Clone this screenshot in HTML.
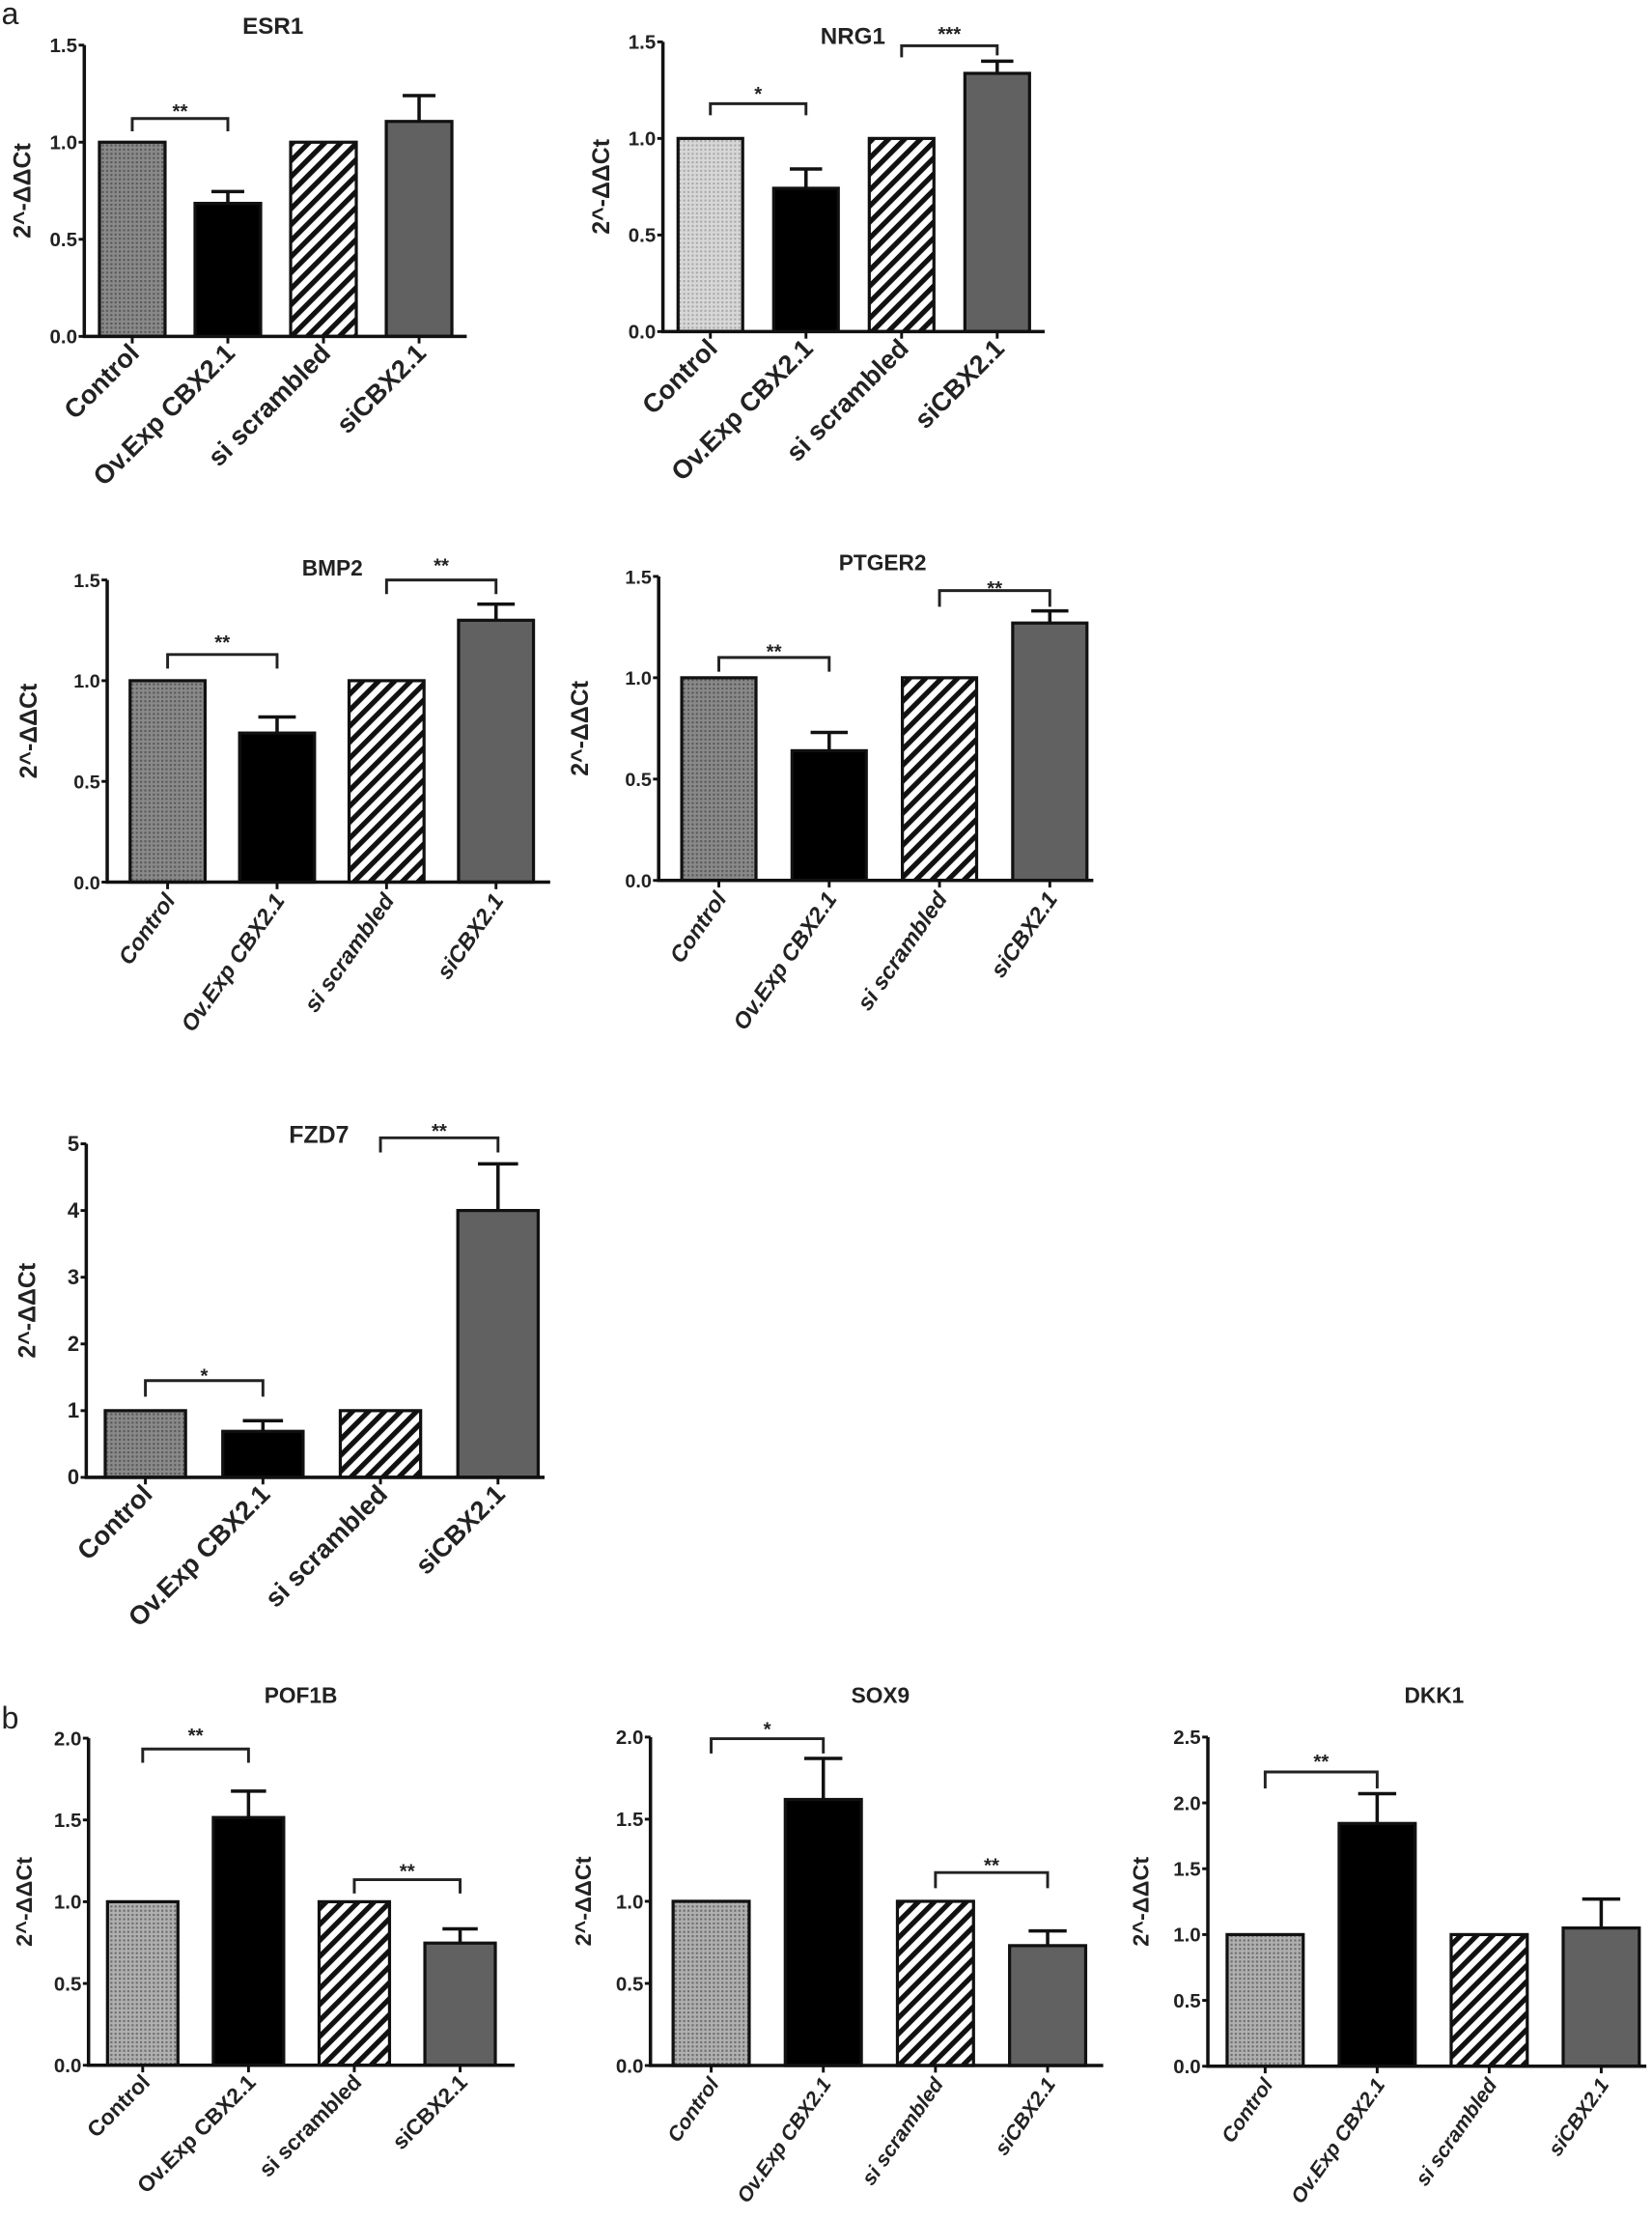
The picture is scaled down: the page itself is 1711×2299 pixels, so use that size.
<!DOCTYPE html>
<html><head><meta charset="utf-8"><style>
html,body{margin:0;padding:0;background:#fff}
svg{display:block}
text{font-family:"Liberation Sans",sans-serif;fill:#222}
</style></head><body>
<svg id="fig" xmlns="http://www.w3.org/2000/svg" width="1711" height="2299" viewBox="0 0 1168 1569.4" preserveAspectRatio="none">
<defs>
<pattern id="hatch" patternUnits="userSpaceOnUse" width="8" height="8" patternTransform="rotate(45)"><rect width="8" height="8" fill="#fff"/><rect width="3.6" height="8" fill="#111"/></pattern>
<pattern id="dotsDark" patternUnits="userSpaceOnUse" width="3" height="3"><rect width="3" height="3" fill="#8a8a8a"/><rect width="1.5" height="1.5" fill="#5a5a5a"/></pattern>
<pattern id="dotsLight" patternUnits="userSpaceOnUse" width="3" height="3"><rect width="3" height="3" fill="#d8d8d8"/><rect width="1.5" height="1.5" fill="#aaa"/></pattern>
<pattern id="dotsMid" patternUnits="userSpaceOnUse" width="3" height="3"><rect width="3" height="3" fill="#b0b0b0"/><rect width="1.5" height="1.5" fill="#6e6e6e"/></pattern>
</defs>
<text x="1" y="17" font-size="22">a</text>
<text x="1" y="1222" font-size="22">b</text>
</svg>
<script>
const categories = ["Control", "Ov.Exp CBX2.1", "si scrambled", "siCBX2.1"];
const esr1Values = [1.0, 0.685, 1.0, 1.107];
const esr1Errors = [0, 0.061, 0, 0.133];
const nrg1Values = [1.0, 0.742, 1.0, 1.337];
const nrg1Errors = [0, 0.10, 0, 0.063];
const bmp2Values = [1.0, 0.74, 1.0, 1.30];
const bmp2Errors = [0, 0.08, 0, 0.08];
const ptger2Values = [1.0, 0.64, 1.0, 1.27];
const ptger2Errors = [0, 0.09, 0, 0.06];
const fzd7Values = [1.0, 0.69, 1.0, 4.0];
const fzd7Errors = [0, 0.16, 0, 0.70];
const pof1bValues = [1.0, 1.515, 1.0, 0.747];
const pof1bErrors = [0, 0.161, 0, 0.087];
const sox9Values = [1.0, 1.62, 1.0, 0.73];
const sox9Errors = [0, 0.25, 0, 0.09];
const dkk1Values = [1.0, 1.844, 1.0, 1.05];
const dkk1Errors = [0, 0.226, 0, 0.22];
const ticks15 = ["0.0", "0.5", "1.0", "1.5"];
const ticks20 = ["0.0", "0.5", "1.0", "1.5", "2.0"];
const ticks25 = ["0.0", "0.5", "1.0", "1.5", "2.0", "2.5"];
const ticks5 = ["0", "1", "2", "3", "4", "5"];
// brackets: [fromBar, toBar, level, legLevelLeft, legLevelRight, stars, starLevel]
const esr1Sig = [[0, 1, 1.122, 1.056, 1.056, "**", 1.17]];
const nrg1Sig = [[0, 1, 1.18, 1.12, 1.12, "*", 1.24], [2, 3, 1.48, 1.42, 1.43, "***", 1.55]];
const bmp2Sig = [[0, 1, 1.13, 1.06, 1.06, "**", 1.2], [2, 3, 1.50, 1.43, 1.43, "**", 1.58]];
const ptger2Sig = [[0, 1, 1.10, 1.03, 1.03, "**", 1.14], [2, 3, 1.43, 1.35, 1.35, "**", 1.45]];
const fzd7Sig = [[0, 1, 1.45, 1.21, 1.21, "*", 1.55], [2, 3, 5.09, 4.87, 4.87, "**", 5.22]];
const pof1bSig = [[0, 1, 1.934, 1.85, 1.85, "**", 2.03], [2, 3, 1.135, 1.05, 1.05, "**", 1.2]];
const sox9Sig = [[0, 1, 1.99, 1.90, 1.90, "*", 2.06], [2, 3, 1.175, 1.08, 1.08, "**", 1.23]];
const dkk1Sig = [[0, 1, 2.235, 2.11, 2.11, "**", 2.33]];

const NS = "http://www.w3.org/2000/svg";
const svg = document.getElementById("fig");
function mk(tag, attrs, parent) {
  const e = document.createElementNS(NS, tag);
  for (const k in attrs) e.setAttribute(k, attrs[k]);
  (parent || svg).appendChild(e);
  return e;
}
const fills = ["", "#000", "url(#hatch)", "#616161"];

function panel(p) {
  const g = mk("g", {});
  
  
  const yScale = v => p.y0 - (v / p.ymax) * (p.y0 - p.yTop);
  const xCenter = i => p.bx + p.step * i + p.bw / 2;
  const t = mk("text", {x: p.titleX, y: p.titleY, "font-size": p.titleFs, "font-weight": "bold", "text-anchor": "middle", fill: "#333"}, g);
  t.textContent = p.title;
  
  
  const yt = mk("text", {x: 0, y: 0, "font-size": p.ytFs, "font-weight": "bold", "text-anchor": "middle",
    transform: `translate(${p.ax - p.ytOff},${(p.y0 + p.yTop) / 2}) rotate(-90)`}, g);
  yt.textContent = "2^-ΔΔCt";
  
  
  p.values.forEach((v, i) => {
    const x = p.bx + p.step * i;
    const r = mk("rect", {x: x, y: yScale(v), width: p.bw, height: p.y0 - yScale(v),
      fill: i === 0 ? p.ctrlFill : fills[i], stroke: "#111", "stroke-width": 2.2}, g);
    
    
    const e = p.errors[i];
    if (e > 0) {
      const cx = xCenter(i);
      const eb = mk("path", {d: `M${cx},${yScale(v)}V${yScale(v + e)}M${cx - p.bw / 4},${yScale(v + e)}H${cx + p.bw / 4}`,
        stroke: "#111", "stroke-width": 2.4, fill: "none"}, g);
      
      
    }
  });
  const ax = mk("path", {d: `M${p.ax},${p.yTop}V${p.y0}H${p.xEnd}`, stroke: "#111", "stroke-width": 2.4, fill: "none"}, g);
  
  
  p.ticks.forEach((lab, k) => {
    const v = p.ymax * k / (p.ticks.length - 1);
    const y = yScale(v);
    mk("path", {d: `M${p.ax - 4},${y}H${p.ax}`, stroke: "#111", "stroke-width": 2}, g);
    const tl = mk("text", {x: p.ax - 5, y: y + 5, "font-size": p.tickFs, "font-weight": "bold", "text-anchor": "end", fill: "#333"}, g);
    tl.textContent = lab;
    
    
  });
  categories.forEach((c, i) => {
    const cx = xCenter(i);
    mk("path", {d: `M${cx},${p.y0}V${p.y0 + 5}`, stroke: "#111", "stroke-width": 2}, g);
    const xl = mk("text", {x: 0, y: 0, "font-size": p.xFs, "font-weight": "bold", "text-anchor": "end",
      "font-style": p.italic ? "italic" : "normal", fill: "#333",
      transform: `translate(${cx + 6},${p.y0 + 13}) rotate(${p.rot})`}, g);
    xl.textContent = c;
    
    
  });
  p.sig.forEach(s => {
    const x1 = xCenter(s[0]), x2 = xCenter(s[1]);
    const br = mk("path", {d: `M${x1},${yScale(s[3])}V${yScale(s[2])}H${x2}V${yScale(s[4])}`, stroke: "#222", "stroke-width": 2, fill: "none"}, g);
    
    
    const st = mk("text", {x: (x1 + x2) / 2, y: yScale(s[6]) + 6, "font-size": 14, "font-weight": "bold", "text-anchor": "middle"}, g);
    st.textContent = s[5];
    
    
  });
}

panel({name: "esr1", title: "ESR1", titleX: 193, titleY: 24, titleFs: 16.5, values: esr1Values, errors: esr1Errors, sig: esr1Sig,
  ticks: ticks15, ymax: 1.5, ax: 59.6, y0: 237.8, yTop: 31.9, xEnd: 330, bx: 70.3, step: 67.6, bw: 46.4, ytOff: 38, ytFs: 17, tickFs: 14,
  ctrlFill: "url(#dotsDark)", xFs: 18.5, italic: false, rot: -45});
panel({name: "nrg1", title: "NRG1", titleX: 603, titleY: 31, titleFs: 16.5, values: nrg1Values, errors: nrg1Errors, sig: nrg1Sig,
  ticks: ticks15, ymax: 1.5, ax: 468.7, y0: 234.4, yTop: 29.6, xEnd: 738.6, bx: 479.4, step: 67.6, bw: 45.7, ytOff: 38, ytFs: 17, tickFs: 14,
  ctrlFill: "url(#dotsLight)", xFs: 18.5, italic: false, rot: -45});
panel({name: "bmp2", title: "BMP2", titleX: 235, titleY: 407, titleFs: 15.5, values: bmp2Values, errors: bmp2Errors, sig: bmp2Sig,
  ticks: ticks15, ymax: 1.5, ax: 75.8, y0: 623.6, yTop: 410, xEnd: 389, bx: 92, step: 77.4, bw: 53, ytOff: 50, ytFs: 17, tickFs: 13.5,
  ctrlFill: "url(#dotsDark)", xFs: 16, italic: true, rot: -55});
panel({name: "ptger2", title: "PTGER2", titleX: 624, titleY: 403, titleFs: 15.5, values: ptger2Values, errors: ptger2Errors, sig: ptger2Sig,
  ticks: ticks15, ymax: 1.5, ax: 465.7, y0: 622.4, yTop: 407.5, xEnd: 773, bx: 482, step: 78, bw: 52.5, ytOff: 50, ytFs: 17, tickFs: 13.5,
  ctrlFill: "url(#dotsDark)", xFs: 16, italic: true, rot: -55});
panel({name: "fzd7", title: "FZD7", titleX: 225.5, titleY: 808, titleFs: 17, values: fzd7Values, errors: fzd7Errors, sig: fzd7Sig,
  ticks: ticks5, ymax: 5, ax: 61, y0: 1044.4, yTop: 808.6, xEnd: 385, bx: 74.4, step: 83.1, bw: 56.8, ytOff: 36, ytFs: 17, tickFs: 15,
  ctrlFill: "url(#dotsDark)", xFs: 18.5, italic: false, rot: -45});
panel({name: "pof1b", title: "POF1B", titleX: 212.7, titleY: 1204, titleFs: 15.5, values: pof1bValues, errors: pof1bErrors, sig: pof1bSig,
  ticks: ticks20, ymax: 2.0, ax: 62.6, y0: 1460, yTop: 1228.8, xEnd: 363.8, bx: 76, step: 74.8, bw: 49.8, ytOff: 40, ytFs: 16, tickFs: 14,
  ctrlFill: "url(#dotsMid)", xFs: 15.5, italic: false, rot: -45});
panel({name: "sox9", title: "SOX9", titleX: 622.5, titleY: 1204, titleFs: 15.5, values: sox9Values, errors: sox9Errors, sig: sox9Sig,
  ticks: ticks20, ymax: 2.0, ax: 459.9, y0: 1460.2, yTop: 1228, xEnd: 780, bx: 475.9, step: 79.3, bw: 53.8, ytOff: 42, ytFs: 16, tickFs: 14,
  ctrlFill: "url(#dotsMid)", xFs: 14.5, italic: true, rot: -55});
panel({name: "dkk1", title: "DKK1", titleX: 1014, titleY: 1204, titleFs: 15.5, values: dkk1Values, errors: dkk1Errors, sig: dkk1Sig,
  ticks: ticks25, ymax: 2.5, ax: 854, y0: 1460.7, yTop: 1228, xEnd: 1164, bx: 867.6, step: 79.2, bw: 53.8, ytOff: 42, ytFs: 16, tickFs: 14,
  ctrlFill: "url(#dotsMid)", xFs: 14.5, italic: true, rot: -55});
</script>
</body></html>
